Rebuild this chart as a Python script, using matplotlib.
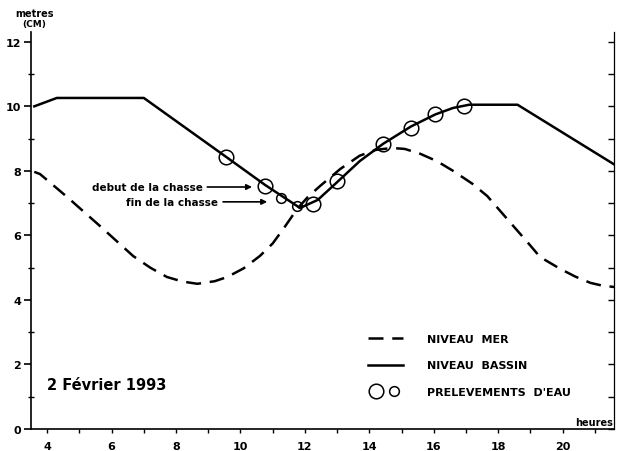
import matplotlib.pyplot as plt
from matplotlib.lines import Line2D
from matplotlib.legend_handler import HandlerTuple
from matplotlib.ticker import MultipleLocator

# niveau du bassin (trait plein)
bassin_h = [3.6, 4.3, 7.0, 9.56, 10.77, 11.85, 12.4, 13.0, 13.7, 14.43, 15.3, 16.05, 16.6, 17.1, 18.6, 21.6]
bassin_m = [10.0, 10.26, 10.26, 8.43, 7.56, 6.85, 7.1, 7.65, 8.3, 8.84, 9.38, 9.75, 9.95, 10.05, 10.05, 8.2]

# niveau de la mer (tirets)
mer_h = [3.6, 3.78, 4.62, 5.64, 6.67, 7.2, 7.72, 8.2, 8.66, 9.2, 9.59, 10.1, 10.6, 11.0, 11.33, 11.76,
         12.1, 12.47, 13.1, 13.7, 14.2, 14.7, 15.1, 15.58, 16.1, 16.6, 17.2, 17.66, 18.47, 18.9,
         19.3, 19.93, 20.4, 20.86, 21.2, 21.6]
mer_m = [7.97, 7.9, 7.19, 6.29, 5.36, 5.0, 4.71, 4.57, 4.5, 4.58, 4.71, 4.98, 5.36, 5.75, 6.2, 6.82,
         7.2, 7.53, 8.06, 8.47, 8.65, 8.71, 8.68, 8.53, 8.3, 8.0, 7.6, 7.22, 6.29, 5.8,
         5.33, 4.96, 4.72, 4.53, 4.45, 4.4]

# prelevements d'eau
grand_h = [9.56, 10.77, 12.26, 13.0, 14.43, 15.3, 16.05, 16.95]
grand_m = [8.43, 7.53, 6.98, 7.69, 8.84, 9.33, 9.77, 10.02]
petit_h = [11.26, 11.76]
petit_m = [7.16, 6.91]

fig = plt.figure(figsize=(6.21, 4.52), dpi=100)
ax = fig.add_axes([0.05, 0.0487, 0.939, 0.878])
ax.set_xlim(3.5, 21.6)
ax.set_ylim(0, 12.3)

dash = (6, 3.5)
ax.plot(mer_h, mer_m, color='black', lw=1.8, linestyle=(0, dash))
ax.plot(bassin_h, bassin_m, color='black', lw=1.8)
ax.plot(grand_h, grand_m, 'o', ms=10.5, mfc='none', mec='black', mew=1.1)
ax.plot(petit_h, petit_m, 'o', ms=7, mfc='none', mec='black', mew=1.1)

# spines / ticks
ax.spines['top'].set_visible(False)
ax.spines['right'].set_visible(False)
for s in ['left', 'bottom']:
    ax.spines[s].set_linewidth(1.2)

ax.xaxis.set_major_locator(MultipleLocator(2))
ax.xaxis.set_minor_locator(MultipleLocator(1))
ax.yaxis.set_major_locator(MultipleLocator(2))
ax.yaxis.set_minor_locator(MultipleLocator(1))
ax.tick_params(axis='x', which='both', direction='out', length=3, width=1, labelsize=8, pad=6)
ax.tick_params(axis='y', which='major', direction='out', length=5, width=1.2, labelsize=8, pad=2)
ax.tick_params(axis='y', which='minor', direction='inout', length=5, width=1)
for lab in ax.get_xticklabels() + ax.get_yticklabels():
    lab.set_fontweight('bold')

# axe de droite, graduations vers l'interieur
axr = ax.twinx()
axr.set_ylim(ax.get_ylim())
axr.yaxis.set_major_locator(MultipleLocator(1))
axr.tick_params(axis='y', which='both', direction='in', length=4, width=1, labelright=False)
for s in ['top', 'left', 'bottom']:
    axr.spines[s].set_visible(False)
axr.spines['right'].set_linewidth(0.9)

fig.text(0.055, 0.969, 'metres', fontsize=7, fontweight='bold', ha='center', va='center')
fig.text(0.055, 0.945, '(CM)', fontsize=6.5, fontweight='bold', ha='center', va='center')
ax.text(21.55, 0.22, 'heures', fontsize=7, fontweight='bold', ha='right', va='center')

ax.text(4.0, 1.38, '2 Février 1993', fontsize=10.5, fontweight='bold', ha='left', va='center')

arrow = dict(arrowstyle='-|>', lw=1.2, color='black', mutation_scale=8, shrinkA=0, shrinkB=0)
ax.text(8.84, 7.5, 'debut de la chasse', fontsize=7.5, fontweight='bold', ha='right', va='center')
ax.annotate('', xy=(10.36, 7.5), xytext=(8.97, 7.5), arrowprops=arrow)
ax.text(9.31, 7.04, 'fin de la chasse', fontsize=7.5, fontweight='bold', ha='right', va='center')
ax.annotate('', xy=(10.83, 7.04), xytext=(9.46, 7.04), arrowprops=arrow)

h_mer = Line2D([], [], color='black', lw=1.8, linestyle=(0, dash))
h_bassin = Line2D([], [], color='black', lw=1.8)
h_g = Line2D([], [], marker='o', ls='none', ms=10.5, mfc='none', mec='black', mew=1.1)
h_p = Line2D([], [], marker='o', ls='none', ms=7, mfc='none', mec='black', mew=1.1)
leg = axr.legend([h_mer, h_bassin, (h_g, h_p)],
                 ['NIVEAU  MER', 'NIVEAU  BASSIN', "PRELEVEMENTS  D'EAU"],
                 handler_map={tuple: HandlerTuple(ndivide=None, pad=0.2)},
                 loc='upper left', bbox_to_anchor=(0.578, 0.24), frameon=False,
                 prop={'size': 8, 'weight': 'bold'}, handlelength=3.1,
                 handletextpad=2.2, labelspacing=1.5, borderpad=0, borderaxespad=0)

fig.savefig('out.png', dpi=100)
